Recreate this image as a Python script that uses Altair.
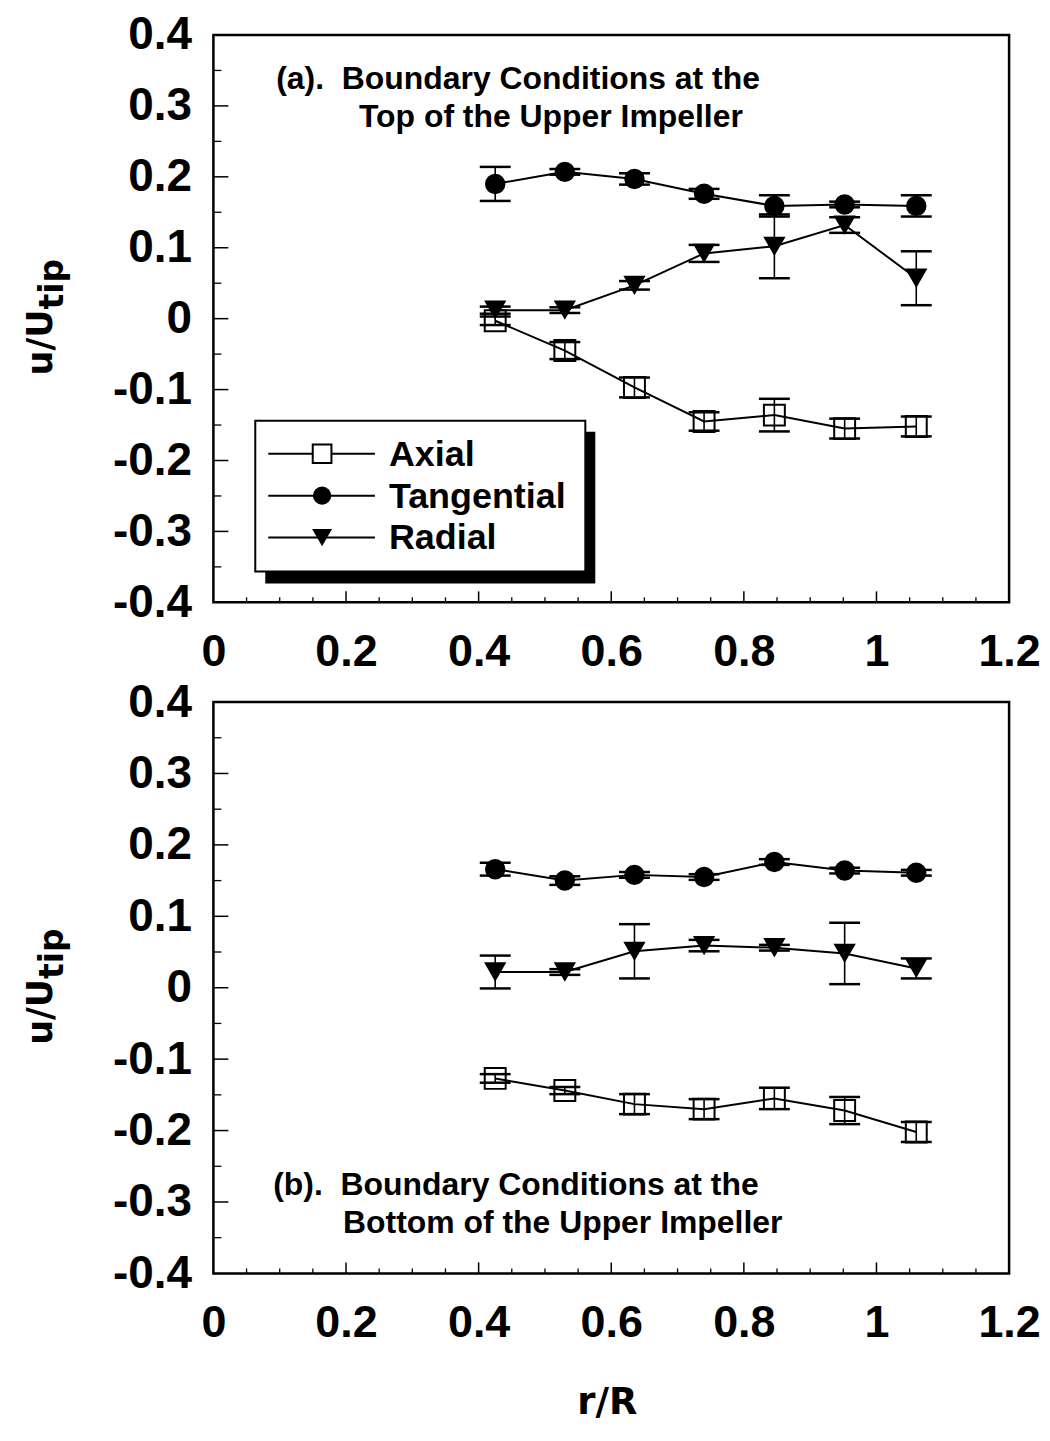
import altair as alt
import pandas as pd

# ---------------- data ----------------
r_vals = [0.425, 0.53, 0.635, 0.74, 0.846, 0.952, 1.06]
series_names = ["Axial", "Tangential", "Radial"]

top_axial = [-0.003, -0.045, -0.097, -0.145, -0.136, -0.155, -0.152]
top_axial_err = [0.006, 0.012, 0.014, 0.013, 0.023, 0.014, 0.014]
top_tangential = [0.190, 0.207, 0.197, 0.176, 0.159, 0.161, 0.159]
top_tangential_err = [0.024, 0.004, 0.008, 0.007, 0.015, 0.004, 0.015]
top_radial = [0.012, 0.012, 0.047, 0.092, 0.102, 0.132, 0.057]
top_radial_err = [0.005, 0.004, 0.006, 0.012, 0.045, 0.011, 0.038]

bot_axial = [-0.127, -0.144, -0.163, -0.170, -0.155, -0.172, -0.202]
bot_axial_err = [0.006, 0.005, 0.014, 0.014, 0.015, 0.019, 0.014]
bot_tangential = [0.166, 0.150, 0.158, 0.155, 0.176, 0.164, 0.161]
bot_tangential_err = [0.009, 0.006, 0.004, 0.004, 0.004, 0.004, 0.004]
bot_radial = [0.022, 0.022, 0.051, 0.059, 0.056, 0.048, 0.027]
bot_radial_err = [0.023, 0.004, 0.038, 0.008, 0.004, 0.043, 0.014]

x_tick_values = [0, 0.2, 0.4, 0.6, 0.8, 1.0, 1.2]
x_tick_labels = ["0", "0.2", "0.4", "0.6", "0.8", "1", "1.2"]
x_minor_ticks = [0.05, 0.1, 0.15, 0.25, 0.3, 0.35, 0.45, 0.5, 0.55, 0.65, 0.7,
                 0.75, 0.85, 0.9, 0.95, 1.05, 1.1, 1.15]
y_tick_values = [-0.4, -0.3, -0.2, -0.1, 0, 0.1, 0.2, 0.3, 0.4]
y_tick_labels = ["-0.4", "-0.3", "-0.2", "-0.1", "0", "0.1", "0.2", "0.3", "0.4"]
y_inner_major = [-0.3, -0.2, -0.1, 0, 0.1, 0.2, 0.3]
y_minor_ticks = [-0.35, -0.25, -0.15, -0.05, 0.05, 0.15, 0.25, 0.35]

notes_top = ["(a).\u00a0\u00a0Boundary Conditions at the", "Top of the Upper Impeller"]
notes_bot = ["(b).\u00a0\u00a0Boundary Conditions at the", "Bottom of the Upper Impeller"]
y_title_main = "u/U"
y_title_sub = "tip"
x_title = "r/R"

# ---------------- layout constants ----------------
W = 798
AX_FONT = "Liberation Sans"
TXT_FONT = "DejaVu Sans"


def label_expr(values, labels):
    parts = [f"abs(datum.value - ({v})) < 1e-6 ? '{l}'" for v, l in zip(values, labels)]
    return " : ".join(parts) + " : ''"


xs = alt.Scale(domain=[0, 1.2], nice=False, zero=False)
ys = alt.Scale(domain=[-0.4, 0.4], nice=False, zero=False)

x_axis = alt.Axis(values=x_tick_values, labelExpr=label_expr(x_tick_values, x_tick_labels),
                  ticks=False, tickSize=0, domain=False, grid=False, title=None,
                  labelFont=AX_FONT, labelFontSize=45, labelFontWeight="bold",
                  labelColor="black", labelPadding=27, labelFlush=False, labelOverlap=False)
y_axis = alt.Axis(values=y_tick_values, labelExpr=label_expr(y_tick_values, y_tick_labels),
                  ticks=False, tickSize=0, domain=False, grid=False, title=None,
                  labelFont=AX_FONT, labelFontSize=46, labelFontWeight="bold",
                  labelColor="black", labelPadding=22, labelFlush=False, labelOverlap=False)


def X(field):
    return alt.X(field, type="quantitative", scale=xs, axis=x_axis, title=None)


def Y(field):
    return alt.Y(field, type="quantitative", scale=ys, axis=y_axis, title=None)


one = pd.DataFrame({"k": [0]})

MARK_STYLE = {
    "Axial": dict(shape="square", filled=False, size=440, strokeWidth=2, color="black", opacity=1),
    "Tangential": dict(shape="circle", filled=True, size=420, color="black", opacity=1),
    "Radial": dict(shape="triangle-down", filled=True, size=500, color="black", opacity=1),
}


def panel(vals, errs, notes, note_pos, H, legend=False, xtitle=False):
    rows = []
    for name, v, e in zip(series_names, vals, errs):
        for r, yv, ev in zip(r_vals, v, e):
            rows.append({"series": name, "r": r, "value": yv, "lo": yv - ev, "hi": yv + ev})
    df = pd.DataFrame(rows)

    layers = []
    # inner ticks
    layers.append(alt.Chart(pd.DataFrame({"v": x_tick_values[1:-1]})).mark_rule(color="black", strokeWidth=1.5)
                  .encode(x=X("v"), y=alt.value(H), y2=alt.value(H - 11)))
    layers.append(alt.Chart(pd.DataFrame({"v": x_minor_ticks})).mark_rule(color="black", strokeWidth=1.3)
                  .encode(x=X("v"), y=alt.value(H), y2=alt.value(H - 5)))
    layers.append(alt.Chart(pd.DataFrame({"v": y_inner_major})).mark_rule(color="black", strokeWidth=1.5)
                  .encode(y=Y("v"), x=alt.value(0), x2=alt.value(15)))
    layers.append(alt.Chart(pd.DataFrame({"v": y_minor_ticks})).mark_rule(color="black", strokeWidth=1.3)
                  .encode(y=Y("v"), x=alt.value(0), x2=alt.value(8)))

    # connecting lines
    layers.append(alt.Chart(df).mark_line(color="black", strokeWidth=2)
                  .encode(x=X("r"), y=Y("value"), detail="series:N"))
    # error bars
    layers.append(alt.Chart(df).mark_rule(color="black", strokeWidth=1.6)
                  .encode(x=X("r"), y=Y("lo"), y2="hi:Q"))
    layers.append(alt.Chart(df).mark_tick(color="black", orient="horizontal", size=31, thickness=2.5, opacity=1)
                  .encode(x=X("r"), y=Y("lo")))
    layers.append(alt.Chart(df).mark_tick(color="black", orient="horizontal", size=31, thickness=2.5, opacity=1)
                  .encode(x=X("r"), y=Y("hi")))
    # markers
    for name in series_names:
        layers.append(alt.Chart(df[df.series == name]).mark_point(**MARK_STYLE[name])
                      .encode(x=X("r"), y=Y("value")))

    # notes
    for t, (nx, ny) in zip(notes, note_pos):
        layers.append(alt.Chart(one).mark_text(align="left", baseline="alphabetic", font=AX_FONT,
                                                fontSize=32, fontWeight="bold", color="black")
                      .encode(x=alt.value(nx), y=alt.value(ny), text=alt.value(t)))

    # y title (rotated, with subscript)
    ymid = H * 0.6
    layers.append(alt.Chart(one).mark_text(align="left", baseline="alphabetic", angle=270, font=TXT_FONT,
                                            fontSize=35, fontWeight="bold", color="black")
                  .encode(x=alt.value(-162), y=alt.value(ymid), text=alt.value(y_title_main)))
    layers.append(alt.Chart(one).mark_text(align="left", baseline="alphabetic", angle=270, font=TXT_FONT,
                                            fontSize=33, fontWeight="bold", color="black")
                  .encode(x=alt.value(-151), y=alt.value(ymid - 66), text=alt.value(y_title_sub)))

    if legend:
        lx0, lx1, ly0, ly1 = 42, 373, 387, 538
        layers.append(alt.Chart(one).mark_rect(color="black")
                      .encode(x=alt.value(lx0 + 10), x2=alt.value(lx1 + 10),
                              y=alt.value(ly0 + 11), y2=alt.value(ly1 + 12)))
        layers.append(alt.Chart(one).mark_rect(fill="white", stroke="black", strokeWidth=2)
                      .encode(x=alt.value(lx0), x2=alt.value(lx1), y=alt.value(ly0), y2=alt.value(ly1)))
        for i, name in enumerate(series_names):
            ry = ly0 + 33 + i * 42
            layers.append(alt.Chart(one).mark_rule(color="black", strokeWidth=2)
                          .encode(x=alt.value(55), x2=alt.value(162), y=alt.value(ry)))
            st = dict(MARK_STYLE[name])
            st["size"] = int(st["size"] * 0.8)
            if name == "Axial":
                st["fill"] = "white"
                st["filled"] = True
                st["stroke"] = "black"
                st.pop("color")
            layers.append(alt.Chart(one).mark_point(**st)
                          .encode(x=alt.value(109), y=alt.value(ry)))
            layers.append(alt.Chart(one).mark_text(align="left", baseline="middle", font=AX_FONT,
                                                    fontSize=36, fontWeight="bold", color="black")
                          .encode(x=alt.value(176), y=alt.value(ry + 1), text=alt.value(name)))

    if xtitle:
        layers.append(alt.Chart(one).mark_text(align="center", baseline="alphabetic", font=TXT_FONT,
                                                fontSize=37, fontWeight="bold", color="black")
                      .encode(x=alt.value(395), y=alt.value(H + 141), text=alt.value(x_title)))

    return alt.layer(*layers).properties(width=W, height=H)


top = panel([top_axial, top_tangential, top_radial],
            [top_axial_err, top_tangential_err, top_radial_err],
            notes_top, [(63, 54), (146, 92)], H=569, legend=True)
bot = panel([bot_axial, bot_tangential, bot_radial],
            [bot_axial_err, bot_tangential_err, bot_radial_err],
            notes_bot, [(60, 494), (130, 532)], H=573, xtitle=True)

chart = alt.vconcat(top, bot, spacing=1).properties(
    padding={"left": 14, "top": 0, "right": 0, "bottom": 4},
    background="white",
).configure_view(stroke="black", strokeWidth=2.5)

chart.save("out.html", embed_options={"renderer": "svg", "actions": False})
